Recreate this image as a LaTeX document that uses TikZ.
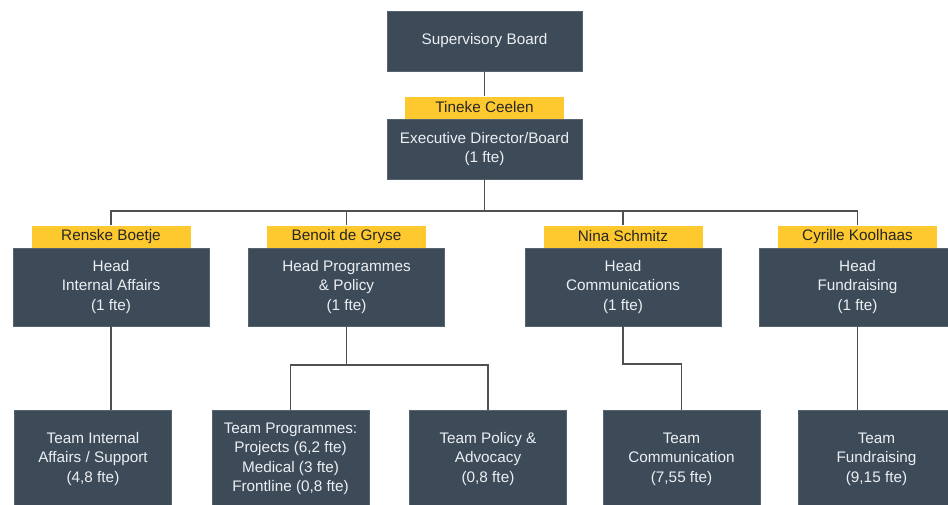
\documentclass[tikz,border=0pt]{standalone}
\usepackage{fontspec}
\setmainfont{Liberation Sans}
\definecolor{boxc}{HTML}{3D4B59}
\definecolor{boxedge}{HTML}{56646F}
\definecolor{yel}{HTML}{FDC92F}
\definecolor{linec}{HTML}{505050}
\definecolor{txtc}{HTML}{ECEFF2}
\begin{document}
\begin{tikzpicture}[x=1pt,y=-1pt,
  orgbox/.style={fill=boxc, draw=boxedge, line width=0.6pt, text=txtc, align=center,
    inner sep=0pt, font=\fontsize{15.3}{19.4}\selectfont},
  topbox/.style={orgbox, minimum width=195pt, minimum height=60pt},
  headbox/.style={orgbox, minimum width=196pt, minimum height=78pt},
  teambox/.style={orgbox, minimum width=157pt, minimum height=98pt},
  namebox/.style={fill=yel, text=black!85, inner sep=0pt, minimum width=159pt,
    minimum height=22pt, anchor=south, font=\fontsize{15.3}{18}\selectfont},
  conn/.style={draw=linec, line width=1.1pt}]
\useasboundingbox (0,0) rectangle (948,504);
\clip (0,0) rectangle (948,504);

\node[topbox] (sup) at (484.5,41) {Supervisory Board};
\node[topbox] (exec) at (484.5,149) {Executive Director/Board\\(1 fte)};
\node[namebox] (tin) at (exec.north) {Tineke Ceelen};

\node[headbox] (h1) at (111,287) {Head\\Internal Affairs\\(1 fte)};
\node[headbox] (h2) at (346.5,287) {Head Programmes\\\& Policy\\(1 fte)};
\node[headbox] (h3) at (623,287) {Head\\Communications\\(1 fte)};
\node[headbox] (h4) at (857.5,287) {Head\\Fundraising\\(1 fte)};
\node[namebox] (n1) at (h1.north) {Renske Boetje};
\node[namebox] (n2) at (h2.north) {Benoit de Gryse};
\node[namebox] (n3) at (h3.north) {Nina Schmitz};
\node[namebox] (n4) at (h4.north) {Cyrille Koolhaas};

\node[teambox] (t1) at (93,459) {Team Internal\\Affairs / Support\\(4,8 fte)};
\node[teambox] (t2) at (290.5,459) {Team Programmes:\\Projects (6,2 fte)\\Medical (3 fte)\\Frontline (0,8 fte)};
\node[teambox] (t3) at (488,459) {Team Policy \&\\Advocacy\\(0,8 fte)};
\node[teambox] (t4) at (681.5,459) {Team\\Communication\\(7,55 fte)};
\node[teambox] (t5) at (876.5,459) {Team\\Fundraising\\(9,15 fte)};

\coordinate (bus) at (484.5,211);
\coordinate (split2) at (346.5,365);
\coordinate (k3) at (681.5,364);

\draw[conn] (sup.south) -- (tin.north);
\draw[conn] (exec.south) -- (bus);
\draw[conn] (n1.north) |- (bus) -| (n4.north);
\draw[conn] (n2.north) -- (n2.north |- bus);
\draw[conn] (n3.north) -- (n3.north |- bus);

\draw[conn] (h1.south) -- (h1.south |- t1.north);
\draw[conn] (h2.south) -- (split2);
\draw[conn] (t2.north) |- (split2) -| (t3.north);
\draw[conn] (h3.south) |- (k3) -- (t4.north);
\draw[conn] (h4.south) -- (h4.south |- t5.north);
\end{tikzpicture}
\end{document}
